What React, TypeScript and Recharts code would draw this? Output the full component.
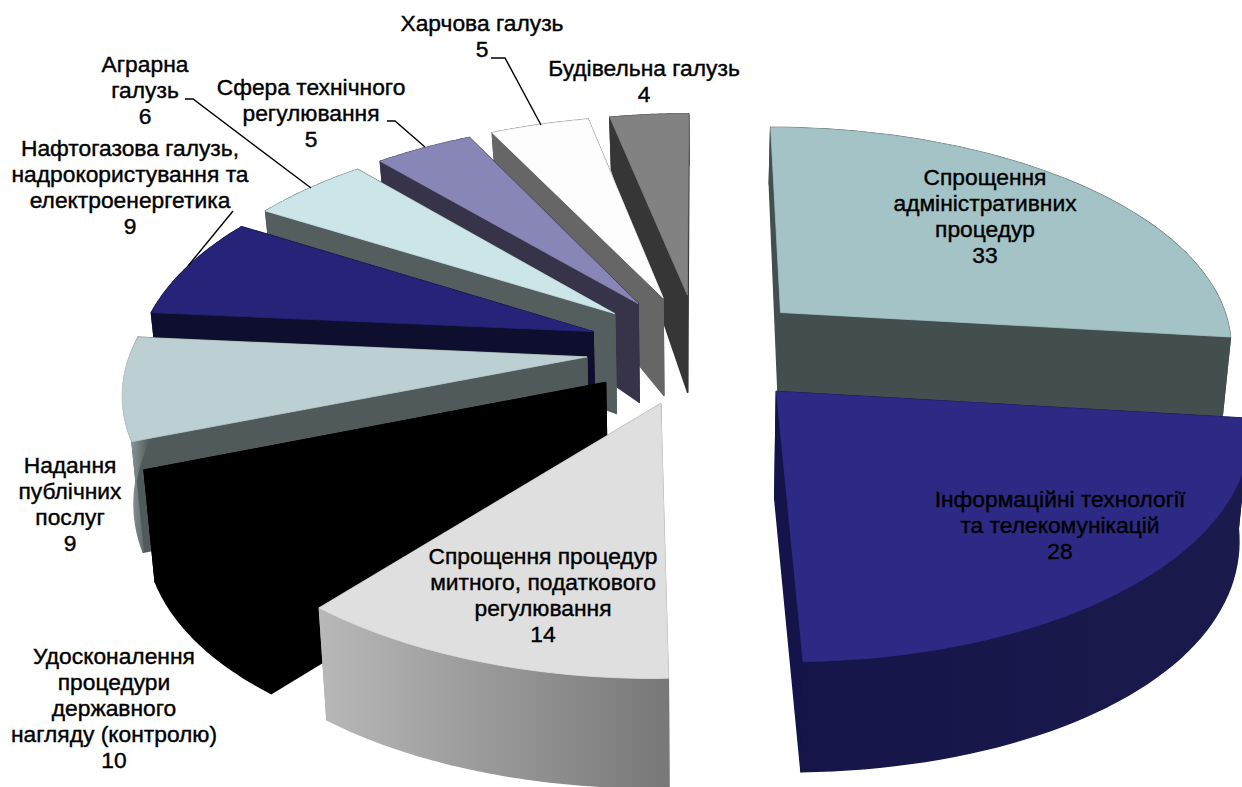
import { Pie, PieChart } from 'recharts';

// Slices in clockwise reading order, starting from twelve o'clock
const categories: string[] = [
  'Спрощення адміністративних процедур',
  'Інформаційні технології та телекомунікації',
  'Спрощення процедур митного, податкового регулювання',
  'Удосконалення процедури державного нагляду (контролю)',
  'Надання публічних послуг',
  'Нафтогазова галузь, надрокористування та електроенергетика',
  'Аграрна галузь',
  'Сфера технічного регулювання',
  'Харчова галузь',
  'Будівельна галузь',
];
const values: number[] = [33, 28, 14, 10, 9, 9, 6, 5, 5, 4];

const topColors = ['#a3c3c6', '#2d2a85', '#dfdfdf', '#000000', '#bccfd2', '#252478', '#cbe5e9', '#8886b6', '#fdfdfd', '#828282'];
const wallLeft = ['#434f4f', '#15154a', '#b8b8b8', '#000000', '#9fb0b2', '#0e0e2e', '#545e5f', '#373449', '#666666', '#363636'];
const wallRight = ['#434f4f', '#1a1a4c', '#787878', '#000000', '#515a5a', '#0e0e2e', '#545e5f', '#373449', '#666666', '#363636'];
const cutColors = ['#434f4f', '#14144a', '#a0a0a0', '#000000', '#515a5a', '#0e0e2e', '#545e5f', '#373449', '#666666', '#363636'];

const labelLines: string[][] = [
  ['Спрощення', 'адміністративних', 'процедур'],
  ['Інформаційні технології', 'та телекомунікацій'],
  ['Спрощення процедур', 'митного, податкового', 'регулювання'],
  ['Удосконалення', 'процедури', 'державного', 'нагляду (контролю)'],
  ['Надання', 'публічних', 'послуг'],
  ['Нафтогазова галузь,', 'надрокористування та', 'електроенергетика'],
  ['Аграрна', 'галузь'],
  ['Сфера технічного', 'регулювання'],
  ['Харчова галузь'],
  ['Будівельна галузь'],
];
// centre x and first baseline of each label block
const labelAnchors: [number, number][] = [
  [985, 185], [1060, 507], [543, 564], [114, 664], [70, 473],
  [130, 156], [145, 72], [311, 95], [482, 31], [644, 76],
];
const leaderLines: Record<number, string> = {
  5: '233,211 188,266',
  6: '185,99 193,99 311,188',
  7: '387,121 395,121 425,147',
  8: '491,58 505,58 541,125',
};

const total = values.reduce((a, b) => a + b, 0);

// Drawn back to front: the first slice goes first, then counter-clockwise round the pie
const drawOrder = [0, 9, 8, 7, 6, 5, 4, 3, 2, 1];
const pieData = drawOrder.map((i) => ({ name: categories[i], value: values[i], slice: i }));
const pieStart = 90 - (360 * values[0]) / total;

const CX = 698.5;
const CY = 349;
const RADIUS = 455;
const SQUASH = 0.4835; // vertical foreshortening of the disc
const PERSPECTIVE = 0.138;
const EXPLODE_U = 0.247;
const EXPLODE_V = 0.255;
const BOTTOM_SHRINK = 0.98;

// Radial units (u right, v away from the viewer) to screen, on the top or the bottom plane
const project = (u: number, v: number, cx: number, cy: number, r: number, bottom: boolean) => {
  const s = 1 / (1 + PERSPECTIVE * v);
  const x = u * r * s;
  const y = -v * r * SQUASH * s;
  if (!bottom) return [cx + x, cy + y];
  const drop = 104 - 23 * v - 15 * v * v;
  return [cx + x * BOTTOM_SHRINK, cy + y + drop];
};

const toPath = (pts: number[][]) =>
  pts.map((p, i) => `${i ? 'L' : 'M'}${p[0].toFixed(1)},${p[1].toFixed(1)}`).join('') + 'Z';

const Slice3D = (props: any) => {
  const { cx, cy, outerRadius, startAngle, endAngle, payload } = props;
  const i: number = payload.slice;
  const a0 = ((90 - endAngle) * Math.PI) / 180;
  const a1 = ((90 - startAngle) * Math.PI) / 180;
  const from = Math.min(a0, a1);
  const to = Math.max(a0, a1);
  const mid = (from + to) / 2;
  const ou = EXPLODE_U * Math.sin(mid);
  const ov = EXPLODE_V * Math.cos(mid);

  const at = (t: number, rr: number, bottom: boolean) =>
    project(ou + rr * Math.sin(t), ov + rr * Math.cos(t), cx, cy, outerRadius, bottom);

  const steps = 48;
  const arcTop: number[][] = [];
  const arcBottom: number[][] = [];
  for (let k = 0; k <= steps; k++) {
    const t = from + ((to - from) * k) / steps;
    arcTop.push(at(t, 1, false));
    arcBottom.push(at(t, 1, true));
  }
  const apexTop = at(from, 0, false);
  const apexBottom = at(from, 0, true);
  const gradId = `wall-${i}`;

  // walls get a wider stroke so their shared edges leave no seam
  return (
    <g strokeWidth={1.5} strokeLinejoin="round">
      <defs>
        <linearGradient id={gradId} x1="0" y1="0" x2="1" y2="0">
          <stop offset="0" stopColor={wallLeft[i]} />
          <stop offset="1" stopColor={wallRight[i]} />
        </linearGradient>
      </defs>
      <path d={toPath([apexTop, arcTop[0], arcBottom[0], apexBottom])} fill={cutColors[i]} stroke={cutColors[i]} />
      <path d={toPath([apexTop, arcTop[steps], arcBottom[steps], apexBottom])} fill={cutColors[i]} stroke={cutColors[i]} />
      <path d={toPath([...arcTop, ...[...arcBottom].reverse()])} fill={`url(#${gradId})`} stroke={`url(#${gradId})`} />
      <path d={toPath([apexTop, ...arcTop])} fill={topColors[i]} stroke={topColors[i]} strokeWidth={0.8} />
    </g>
  );
};

const SliceLabel = (props: any) => {
  const i: number = props.payload?.slice ?? drawOrder[props.index];
  const [x, y] = labelAnchors[i];
  const rows = [...labelLines[i], String(values[i])];
  return (
    <g>
      {leaderLines[i] && <polyline points={leaderLines[i]} fill="none" stroke="#000" strokeWidth={1.4} />}
      <text
        x={x}
        y={y}
        textAnchor="middle"
        fontFamily="Liberation Sans, Arial, sans-serif"
        fontSize={22.8}
        fill="#000"
        stroke="#000"
        strokeWidth={0.4}
      >
        {rows.map((row, r) => (
          <tspan key={r} x={x} y={y + r * 25.9}>
            {row}
          </tspan>
        ))}
      </text>
    </g>
  );
};

export default function App() {
  return (
    <div style={{ position: 'absolute', left: 0, top: 0, width: 1242, height: 787, background: '#fff' }}>
      <PieChart width={1242} height={787} margin={{ top: 0, right: 0, bottom: 0, left: 0 }}>
        <Pie
          data={pieData}
          dataKey="value"
          nameKey="name"
          cx={CX}
          cy={CY}
          outerRadius={RADIUS}
          startAngle={pieStart}
          endAngle={pieStart + 360}
          paddingAngle={0}
          stroke="none"
          shape={Slice3D}
          label={SliceLabel}
          labelLine={false}
          isAnimationActive={false}
        />
      </PieChart>
    </div>
  );
}
